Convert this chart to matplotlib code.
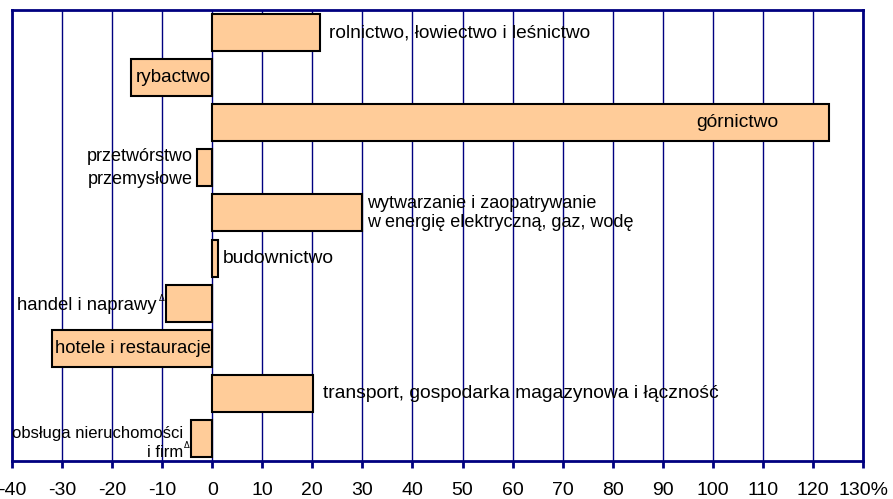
import matplotlib
matplotlib.use("Agg")
import matplotlib.pyplot as plt

plt.rcParams['font.family'] = ['Liberation Sans', 'DejaVu Sans']

categories = [
    "rolnictwo, łowiectwo i leśnictwo",
    "rybactwo",
    "górnictwo",
    "przetwórstwo\nprzemysłowe",
    "wytwarzanie i zaopatrywanie\nw energię elektryczną, gaz, wodę",
    "budownictwo",
    "handel i naprawy",
    "hotele i restauracje",
    "transport, gospodarka magazynowa i łączność",
    "obsługa nieruchomości\ni firm",
]
values = [21.6, -16.2, 123.3, -3.0, 30.0, 1.2, -9.2, -32.0, 20.2, -4.2]
marks = ["", "", "", "", "", "", "Δ", "", "", "Δ"]
# label placement: 'out' beyond bar end, 'in' inside bar near zero, 'in_far' inside near bar end
placement = ["out", "in", "in_far", "out", "out", "out", "out", "in", "out", "out"]
label_sizes = [13.8, 13.6, 13.9, 13.0, 13.0, 13.9, 13.3, 13.3, 13.9, 12.0]
label_spacing = [1.2, 1.2, 1.2, 1.5, 1.12, 1.2, 1.2, 1.2, 1.2, 1.35]
label_offsets = [6, -1, -37, -3, 3, 3.5, -7, -1, 7, -6]
label_dy = [0, 0, 0, 0, 0, 0, -2, 0, 0, -3]

xticks = list(range(-40, 131, 10))
xticklabels = [str(t) for t in xticks[:-1]] + ["130%"]

navy = "#000080"

fig = plt.figure(figsize=(8.93, 4.99), dpi=100)
ax = fig.add_axes([12/893, 38/499, 851/893, 451/499])

ypos = list(range(len(values)))
ax.barh(ypos, values, height=0.82, color="#FFCC99", edgecolor="black",
        linewidth=1.5, zorder=3)

ax.set_xlim(-40, 130)
ax.set_ylim(len(values) - 0.5, -0.5)
ax.set_xticks(xticks)
ax.set_xticklabels(xticklabels, fontsize=14)
ax.set_yticks([])
ax.grid(axis="x", color=navy, linewidth=1.0, zorder=0)
ax.set_axisbelow(True)
for s in ax.spines.values():
    s.set_color(navy)
    s.set_linewidth(2)
ax.tick_params(axis="x", direction="out", length=5, width=2, color=navy,
               pad=10, labelcolor="black")

for i, (cat, v, m, p) in enumerate(zip(categories, values, marks, placement)):
    fs = label_sizes[i]
    ls = label_spacing[i]
    off = label_offsets[i]
    dy = label_dy[i]
    if p == "out":
        if v >= 0:
            ax.annotate(cat, (v, i), xytext=(off, dy), textcoords="offset points",
                        ha="left", va="center", fontsize=fs, zorder=4,
                        linespacing=ls)
        else:
            ax.annotate(cat, (v, i), xytext=(off, dy), textcoords="offset points",
                        ha="right", va="center", fontsize=fs, zorder=4,
                        multialignment="right", linespacing=ls)
            if m:
                mdy = 0 if "\n" not in cat else -8
                ax.annotate(m, (v, i), xytext=(-1.2, mdy), textcoords="offset points",
                            ha="right", va="bottom", fontsize=6,
                            family=["DejaVu Sans"], zorder=4)
    elif p == "in":
        ax.annotate(cat, (0, i), xytext=(off, dy), textcoords="offset points",
                    ha="right", va="center", fontsize=fs, zorder=4)
    else:
        ax.annotate(cat, (v, i), xytext=(off, dy), textcoords="offset points",
                    ha="right", va="center", fontsize=fs, zorder=4)

fig.savefig("out.png", dpi=100)
